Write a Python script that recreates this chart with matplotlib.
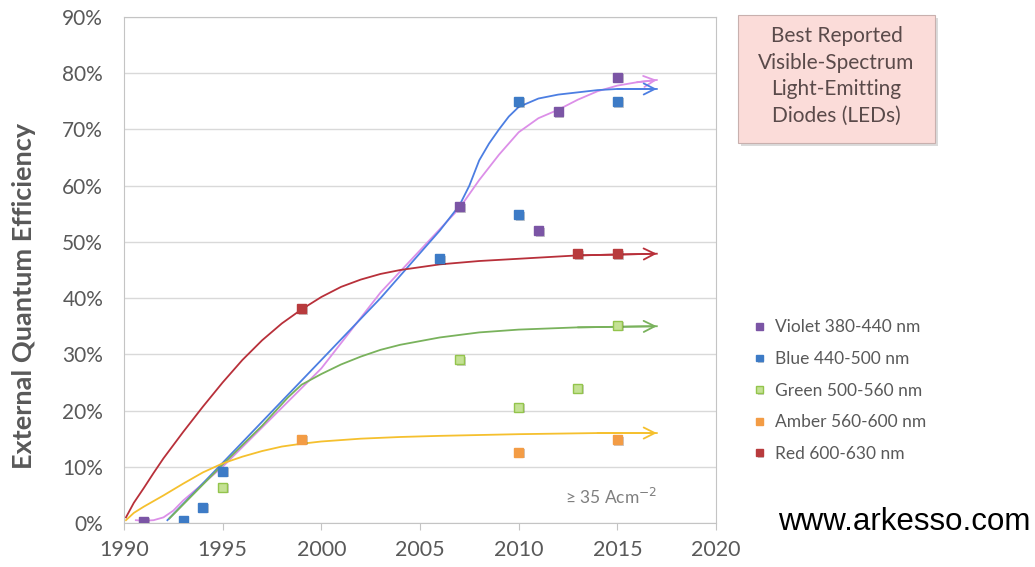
import matplotlib
matplotlib.use('Agg')
import matplotlib.pyplot as plt
import matplotlib.patheffects as pe
from matplotlib.patches import Rectangle

plt.rcParams['font.family'] = ['Lato', 'DejaVu Sans']

# best reported devices (year, EQE in %)
violet_x = [1991, 2007, 2011, 2012, 2015]
violet_y = [0.3, 56.3, 52.0, 73.2, 79.3]
blue_x = [1993, 1994, 1995, 2006, 2010, 2010, 2015]
blue_y = [0.4, 2.8, 9.2, 47.0, 54.8, 75.0, 75.0]
green_x = [1995, 2007, 2010, 2013, 2015]
green_y = [6.4, 29.1, 20.6, 24.0, 35.2]
amber_x = [1999, 2010, 2015]
amber_y = [14.9, 12.6, 14.8]
red_x = [1999, 2013, 2015]
red_y = [38.1, 47.9, 47.9]

# hand-drawn trend curves
violet_cx = [1990.6, 1991, 1991.5, 1992, 1992.5, 1993, 1995, 1998, 2000, 2003, 2005,
             2007, 2008, 2009, 2010, 2011, 2012, 2013, 2014, 2015, 2016, 2017]
violet_cy = [0.5, 0.4, 0.5, 1.0, 2.2, 4.0, 10.0, 20.5, 27.5, 41.0, 48.5,
             56.0, 61.0, 65.5, 69.5, 72.0, 73.5, 75.3, 76.8, 77.8, 78.4, 78.8]
blue_cx = [1992.2, 1995, 2000, 2003, 2004, 2005, 2006, 2007, 2007.5, 2008, 2008.5,
           2009, 2009.5, 2010, 2011, 2012, 2013, 2014, 2015, 2017]
blue_cy = [0.5, 10.7, 29.0, 40.0, 44.0, 48.0, 52.0, 56.5, 60.0, 64.5, 67.5,
           70.0, 72.3, 74.0, 75.5, 76.2, 76.6, 77.0, 77.2, 77.2]
green_cx = [1992.3, 1995, 1997, 1998.3, 1999, 2000, 2001, 2002, 2003, 2004, 2006,
            2008, 2010, 2013, 2017]
green_cy = [0.8, 10.4, 17.3, 22.3, 24.6, 26.5, 28.2, 29.6, 30.8, 31.7, 33.0,
            33.9, 34.4, 34.8, 35.0]
amber_cx = [1990.1, 1990.5, 1991, 1991.5, 1992, 1993, 1994, 1995, 1996, 1997, 1998,
            1999, 2000, 2002, 2004, 2006, 2010, 2014, 2017]
amber_cy = [0.5, 1.8, 2.9, 3.9, 4.9, 7.0, 9.0, 10.6, 11.8, 12.8, 13.6,
            14.1, 14.5, 15.0, 15.3, 15.5, 15.8, 16.0, 16.0]
red_cx = [1990.1, 1990.5, 1991, 1991.5, 1992, 1993, 1994, 1995, 1996, 1997, 1998,
          1999, 2000, 2001, 2002, 2003, 2004, 2006, 2008, 2010, 2013, 2017]
red_cy = [1.0, 3.6, 6.2, 8.9, 11.5, 16.2, 20.7, 25.0, 29.0, 32.5, 35.5,
          38.0, 40.2, 42.0, 43.3, 44.3, 45.0, 46.0, 46.6, 47.0, 47.6, 47.9]

labels = ['Violet 380-440 nm', 'Blue 440-500 nm', 'Green 500-560 nm',
          'Amber 560-600 nm', 'Red 600-630 nm']
year_ticks = [1990, 1995, 2000, 2005, 2010, 2015, 2020]
pct_ticks = [0, 10, 20, 30, 40, 50, 60, 70, 80, 90]

series = [
    (violet_x, violet_y, violet_cx, violet_cy, '#7b55a5', '#7b55a5', '#dc8fe8'),
    (blue_x, blue_y, blue_cx, blue_cy, '#3d7bc6', '#3d7bc6', '#4c7ee2'),
    (green_x, green_y, green_cx, green_cy, '#c4e194', '#93c44c', '#79b25c'),
    (amber_x, amber_y, amber_cx, amber_cy, '#f39c45', '#f39c45', '#f5c02e'),
    (red_x, red_y, red_cx, red_cy, '#b83b3d', '#b83b3d', '#b8303a'),
]

fig = plt.figure(figsize=(10.35, 5.67), dpi=100)
ax = fig.add_axes([0.1198, 0.0776, 0.5720, 0.8924])

# trend curves with open arrow heads
for x, y, cx, cy, fc, ec, lc in series:
    ax.plot(cx, cy, color=lc, lw=1.3, zorder=2)
    ax.annotate('', xy=(cx[-1], cy[-1]), xytext=(cx[-2], cy[-2]),
                arrowprops=dict(arrowstyle='->', color=lc, lw=1.3,
                                mutation_scale=20, shrinkA=0, shrinkB=0),
                zorder=2)

shadow = [pe.SimplePatchShadow(offset=(1.2, -1.2), alpha=0.25), pe.Normal()]
handles = []
for (x, y, cx, cy, fc, ec, lc), lab in zip(series, labels):
    h, = ax.plot(x, y, ls='none', marker='s', ms=6.5, mfc=fc, mec=ec, mew=1.0,
                 zorder=4, path_effects=shadow, label=lab)
    handles.append(h)

ax.set_xlim(1990, 2020)
ax.set_ylim(0, 90)
ax.set_xticks(year_ticks)
ax.set_xticklabels([str(t) for t in year_ticks])
ax.set_yticks(pct_ticks)
ax.set_yticklabels([f'{t}%' for t in pct_ticks])
ax.grid(axis='y', color='#d9d9d9', lw=1)
ax.set_axisbelow(True)
for s in ax.spines.values():
    s.set_color('#c4c4c4')
ax.tick_params(axis='x', direction='out', length=5, color='#c4c4c4',
               labelsize=15.5, labelcolor='#595959', pad=7)
ax.tick_params(axis='y', length=0, labelsize=15, labelcolor='#595959', pad=15)
ax.set_ylabel('External Quantum Efficiency', fontsize=19.5, fontweight='bold',
              color='#595959')
ax.yaxis.set_label_coords(-0.148, 0.449)

ax.text(2017.05, 4.6, '≥ 35 Acm$^{-2}$', fontsize=12.5, color='#7f7f7f',
        ha='right', va='center')

leg = fig.legend(handles=handles, loc='upper left',
                 bbox_to_anchor=(0.722, 0.449), frameon=False, fontsize=12.5,
                 labelcolor='#595959', handlelength=0.6, handletextpad=0.6,
                 labelspacing=0.9, borderaxespad=0, markerscale=0.75)

# title box
fig.patches.append(Rectangle((741 / 1035, 1 - 146 / 567), 197 / 1035, 128 / 567,
                             transform=fig.transFigure, facecolor='#9a9a9a',
                             edgecolor='none', alpha=0.35, zorder=1))
fig.patches.append(Rectangle((738 / 1035, 1 - 143 / 567), 197 / 1035, 128 / 567,
                             transform=fig.transFigure, facecolor='#fbdcd9',
                             edgecolor='#c8b0ae', lw=0.8, zorder=2))
fig.text(836.5 / 1035, 1 - 76 / 567,
         'Best Reported\nVisible-Spectrum\nLight-Emitting\nDiodes (LEDs)',
         ha='center', va='center', fontsize=15, color='#5a4a4a',
         linespacing=1.42, zorder=3)

fig.text(1030 / 1035, 1 - 522 / 567, 'www.arkesso.com', ha='right',
         va='center', fontsize=22.5, color='black', family='Liberation Sans')

fig.savefig('out.png', dpi=100)
